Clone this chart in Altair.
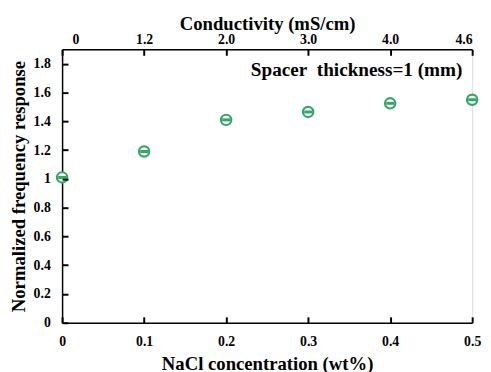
import altair as alt
import pandas as pd

nacl = [0, 0.1, 0.2, 0.3, 0.4, 0.5]
resp = [1.01, 1.19, 1.41, 1.465, 1.525, 1.55]
cond_labels = ["0", "1.2", "2.0", "3.0", "4.0", "4.6"]
y_ticks = [0, 0.2, 0.4, 0.6, 0.8, 1, 1.2, 1.4, 1.6, 1.8]
x_ticks = [0, 0.1, 0.2, 0.3, 0.4, 0.5]

df = pd.DataFrame({"nacl": nacl, "resp": resp})

FONT = "Liberation Serif"
GREEN = "#35a565"
W, H = 417, 278

xs = alt.Scale(domain=[0, 0.5], nice=False, zero=False)
ys = alt.Scale(domain=[0, 1.9], nice=False, zero=False)

common = dict(tickSize=0, grid=False,
              labelFont=FONT, labelFontWeight="bold", labelFontSize=14, labelColor="black",
              titleFont=FONT, titleFontWeight="bold", titleColor="black",
              domainColor="black", domainWidth=1.5)

tick_only = dict(labels=False, domain=False, grid=False, title=None, zindex=2,
                 tickSize=6, tickWidth=2, tickColor="black")

label_map = ("datum.value == 0 ? '" + cond_labels[0] + "' : datum.value == 0.1 ? '" + cond_labels[1]
             + "' : datum.value == 0.2 ? '" + cond_labels[2] + "' : datum.value == 0.3 ? '" + cond_labels[3]
             + "' : datum.value == 0.4 ? '" + cond_labels[4] + "' : '" + cond_labels[5] + "'")

bottom_axis = alt.Axis(values=x_ticks, labelExpr="'' + datum.value", title="NaCl concentration (wt%)",
                       labelPadding=12, labelFlush=False, titleFontSize=19, titlePadding=7, **common)

left_axis = alt.Axis(values=y_ticks, labelExpr="'' + datum.value",
                     title="Normalized frequency response",
                     labelPadding=12, titlePadding=5, titleFontSize=19, **common)

top_axis = alt.Axis(
    orient="top", values=x_ticks, labelExpr=label_map,
    labelFlush=True,
    labelOffset={"expr": "datum.value == 0 ? 10 : 0"},
    title="Conductivity (mS/cm)", labelPadding=3, titleFontSize=19, titlePadding=-1, **common)

inner_y_ticks = alt.Axis(orient="right", offset=-W, values=y_ticks, **tick_only)
inner_bottom_ticks = alt.Axis(orient="top", offset=-H, values=x_ticks, **tick_only)
inner_top_ticks = alt.Axis(orient="bottom", offset=-H, values=x_ticks, **tick_only)

layer_a = alt.Chart(df).mark_point(opacity=0).encode(
    x=alt.X("nacl:Q", scale=xs, axis=bottom_axis),
    y=alt.Y("resp:Q", scale=ys, axis=left_axis))
layer_b = alt.Chart(df).mark_point(opacity=0).encode(
    x=alt.X("nacl:Q", scale=xs, axis=top_axis),
    y=alt.Y("resp:Q", scale=ys, axis=inner_y_ticks))
layer_c = alt.Chart(df).mark_point(opacity=0).encode(
    x=alt.X("nacl:Q", scale=xs, axis=inner_bottom_ticks),
    y=alt.Y("resp:Q", scale=ys, axis=None))
layer_d = alt.Chart(df).mark_point(opacity=0).encode(
    x=alt.X("nacl:Q", scale=xs, axis=inner_top_ticks),
    y=alt.Y("resp:Q", scale=ys, axis=None))

base = alt.Chart(df).encode(
    x=alt.X("nacl:Q", scale=xs, axis=None),
    y=alt.Y("resp:Q", scale=ys, axis=None))

circles = base.mark_point(shape="circle", filled=False, fill="white", fillOpacity=1,
                          stroke=GREEN, strokeWidth=2.2, size=110, opacity=1, clip=False)
bars = base.mark_point(shape="stroke", stroke=GREEN, strokeWidth=3, size=64, opacity=1, clip=False)

note = alt.Chart(pd.DataFrame({"t": ["Spacer\u00a0 thickness=1 (mm)"]})).mark_text(
    font=FONT, fontWeight="bold", fontSize=19.5, align="right", baseline="middle", color="black").encode(
    text="t:N", x=alt.value(W - 10), y=alt.value(21))

chart = alt.layer(layer_a, layer_b, layer_c, layer_d, note, circles, bars).resolve_axis(
    x="independent", y="independent").properties(
    width=W, height=H,
    autosize=alt.AutoSizeParams(type="none"),
    padding={"left": 55, "top": 39, "right": 11, "bottom": 47},
).configure_view(stroke="black", strokeWidth=1.5).configure(background="white")

chart.save("out.html", embed_options={"renderer": "svg", "actions": False})
